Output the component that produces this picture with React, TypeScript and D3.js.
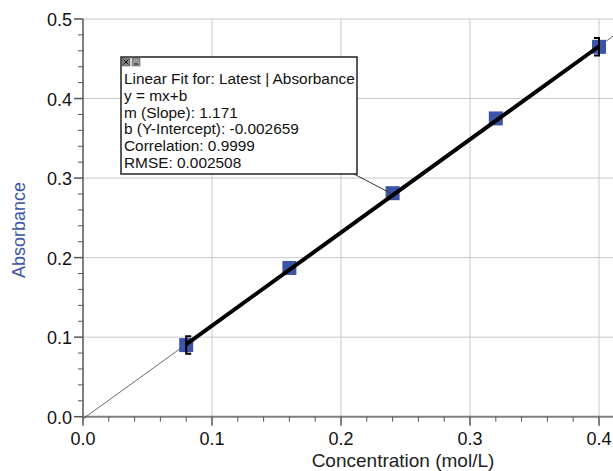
import React from "react";
import * as d3 from "d3";

const concentration = [0.08, 0.16, 0.24, 0.32, 0.4];
const absorbance = [0.09, 0.187, 0.281, 0.375, 0.465];
const errorBars = [0.011, 0, 0, 0, 0.011];
const xTicks = [0.0, 0.1, 0.2, 0.3, 0.4];
const yTicks = [0.0, 0.1, 0.2, 0.3, 0.4, 0.5];
const slope = 1.171;
const intercept = -0.002659;
const fitLines = [
  "Linear Fit for: Latest | Absorbance",
  "y = mx+b",
  "m (Slope): 1.171",
  "b (Y-Intercept): -0.002659",
  "Correlation: 0.9999",
  "RMSE: 0.002508",
];

const width = 613;
const height = 471;

export default function App() {
  const x = d3.scaleLinear().domain([0, 0.4]).range([83, 599]);
  const y = d3.scaleLinear().domain([0, 0.5]).range([416.7, 19]);
  const xMax = x.invert(width);
  const minorX = d3.range(0, 0.42, 0.02);
  const minorY = d3.range(0, 0.501, 0.02);
  const font = "Arial, 'Liberation Sans', sans-serif";
  const blue = "#3c54a6";

  const boxX = 121;
  const boxY = 57;
  const boxW = 236;
  const boxH = 117;

  return (
    <svg width={width} height={height} style={{ position: "absolute", left: 0, top: 0 }} fontFamily={font}>
      <rect width={width} height={height} fill="#fff" />
      {/* grid */}
      {xTicks.slice(1).map((t) => (
        <line key={"gx" + t} x1={x(t)} x2={x(t)} y1={y(0)} y2={y(0.5)} stroke="#c8c8c8" />
      ))}
      {yTicks.slice(1).map((t) => (
        <line key={"gy" + t} x1={x(0)} x2={width} y1={y(t)} y2={y(t)} stroke="#c8c8c8" />
      ))}
      {/* axes */}
      <line x1={x(0)} x2={width} y1={y(0)} y2={y(0)} stroke="#808080" strokeWidth={2} />
      <line x1={x(0)} x2={x(0)} y1={y(0) + 1} y2={y(0.5)} stroke="#808080" strokeWidth={2} />
      {minorX.map((t, i) => {
        const major = i % 5 === 0;
        return (
          <line key={"tx" + i} x1={x(t)} x2={x(t)} y1={y(0)} y2={y(0) + (major ? 9 : 5)} stroke="#555" strokeWidth={major ? 1.5 : 1} />
        );
      })}
      {minorY.map((t, i) => {
        const major = i % 5 === 0;
        return (
          <line key={"ty" + i} x1={x(0)} x2={x(0) - (major ? 9 : 5)} y1={y(t)} y2={y(t)} stroke="#555" strokeWidth={major ? 1.5 : 1} />
        );
      })}
      {xTicks.map((t) => (
        <text key={"lx" + t} x={x(t)} y={y(0) + 28.5} textAnchor="middle" fontSize={18} fill="#111">
          {d3.format(".1f")(t)}
        </text>
      ))}
      {yTicks.map((t) => (
        <text key={"ly" + t} x={x(0) - 11} y={y(t) + 7} textAnchor="end" fontSize={18} fill="#111">
          {d3.format(".1f")(t)}
        </text>
      ))}
      <text x={403} y={467} textAnchor="middle" fontSize={19} fill="#222">
        Concentration (mol/L)
      </text>
      <text transform={`translate(25,230) rotate(-90)`} textAnchor="middle" fontSize={18} fill={blue}>
        Absorbance
      </text>
      {/* thin fit line across */}
      <line x1={x(0)} y1={y(intercept)} x2={width} y2={y(slope * xMax + intercept)} stroke="#444" strokeWidth={0.8} />
      {/* points */}
      {concentration.map((c, i) => (
        <rect key={"p" + i} x={x(c) - 7} y={y(absorbance[i]) - 7} width={14} height={14} fill={blue} />
      ))}
      {/* thick fit line over data range */}
      <line
        x1={x(concentration[0])}
        y1={y(slope * concentration[0] + intercept)}
        x2={x(concentration[4])}
        y2={y(slope * concentration[4] + intercept)}
        stroke="#000"
        strokeWidth={4}
      />
      {/* error bars */}
      {concentration.map((c, i) => {
        if (!errorBars[i]) return null;
        const cx = x(c);
        const top = y(absorbance[i] + errorBars[i]);
        const bot = y(absorbance[i] - errorBars[i]);
        const dir = i === 0 ? 1 : -1;
        return (
          <g key={"e" + i} stroke="#000" strokeWidth={2} fill="none">
            <path d={`M${cx + dir * 5},${top} H${cx} V${bot} H${cx + dir * 5}`} />
          </g>
        );
      })}
      {/* leader line */}
      <line x1={boxX + boxW - 3} y1={boxY + boxH} x2={x(0.24) - 2} y2={y(0.281)} stroke="#333" strokeWidth={1} />
      {/* annotation box */}
      <rect x={boxX} y={boxY} width={boxW} height={boxH} fill="#fff" stroke="#222" strokeWidth={1.5} />
      <rect x={boxX + 1} y={boxY + 1} width={8} height={8} fill="#888" stroke="#444" strokeWidth={0.5} />
      <path d={`M${boxX + 2.5},${boxY + 2.5} L${boxX + 7.5},${boxY + 7.5} M${boxX + 7.5},${boxY + 2.5} L${boxX + 2.5},${boxY + 7.5}`} stroke="#111" strokeWidth={1} />
      <rect x={boxX + 11} y={boxY + 1} width={8} height={8} fill="#999" stroke="#444" strokeWidth={0.5} />
      <line x1={boxX + 13} x2={boxX + 17} y1={boxY + 7} y2={boxY + 7} stroke="#111" strokeWidth={1} />
      {fitLines.map((s, i) => (
        <text key={"f" + i} x={boxX + 3} y={boxY + 27 + i * 16.8} fontSize={15.4} fill="#111">
          {s}
        </text>
      ))}
    </svg>
  );
}
